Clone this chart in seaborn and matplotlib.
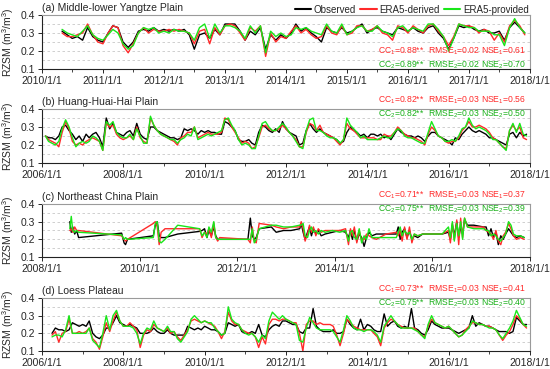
import numpy as np
import pandas as pd
import matplotlib
matplotlib.use("Agg")
import matplotlib.pyplot as plt
import matplotlib.dates as mdates
from matplotlib.ticker import MultipleLocator, FuncFormatter, NullLocator
import seaborn as sns

# ---------------- data ----------------
series_names = ["Observed", "ERA5-derived", "ERA5-provided"]
titles = ["(a) Middle-lower Yangtze Plain", "(b) Huang-Huai-Hai Plain",
          "(c) Northeast China Plain", "(d) Loess Plateau"]
stats_1 = [("0.88", "0.02", "0.61"), ("0.82", "0.03", "0.56"),
           ("0.71", "0.03", "0.37"), ("0.73", "0.03", "0.41")]
stats_2 = [("0.89", "0.02", "0.70"), ("0.82", "0.03", "0.50"),
           ("0.75", "0.03", "0.39"), ("0.75", "0.03", "0.40")]

# panel a: monthly, starting 2010-05
a_start = "2010-05-01"
a_obs = [.31, .29, .27, .28, .26, .33, .28, .26, .25, .30, .34, .33, .25, .22, .25, .31,
         .32, .31, .33, .31, .32, .31, .32, .31, .32, .29, .21, .29, .30, .27, .32, .29,
         .35, .35, .35, .31, .26, .31, .29, .33, .21, .29, .26, .29, .27, .30, .35, .31,
         .33, .30, .28, .25, .33, .31, .30, .33, .30, .31, .33, .35, .30, .32, .33, .31,
         .30, .29, .33, .32, .31, .33, .31, .30, .33, .34, .30, .27, .21, .27, .34, .33,
         .34, .32, .31, .32, .30, .30, .31, .26, .33, .36, .33, .30]
a_der = [.30, .28, .28, .29, .30, .35, .29, .25, .24, .30, .34, .33, .23, .19, .24, .30,
         .33, .30, .32, .31, .31, .32, .31, .32, .31, .30, .24, .31, .32, .24, .33, .29,
         .34, .35, .34, .30, .26, .33, .31, .34, .17, .30, .25, .28, .27, .31, .34, .30,
         .32, .29, .27, .28, .34, .30, .29, .34, .29, .30, .34, .34, .31, .32, .34, .30,
         .29, .26, .34, .33, .30, .34, .32, .30, .34, .35, .31, .28, .23, .28, .35, .34,
         .34, .33, .30, .32, .31, .26, .30, .25, .34, .37, .34, .29]
a_pro = [.32, .30, .29, .28, .31, .34, .29, .27, .26, .29, .32, .30, .24, .21, .23, .30,
         .33, .32, .33, .30, .31, .30, .32, .31, .31, .30, .26, .33, .35, .27, .35, .30,
         .34, .34, .33, .31, .27, .34, .30, .34, .19, .31, .28, .30, .28, .29, .33, .32,
         .33, .31, .30, .29, .35, .31, .30, .35, .29, .31, .33, .34, .31, .31, .34, .31,
         .30, .28, .33, .34, .31, .33, .32, .31, .35, .35, .32, .28, .20, .27, .35, .34,
         .33, .33, .31, .31, .31, .29, .29, .23, .33, .38, .33, .30]

# panel b: monthly, starting 2006-02
b_start = "2006-02-01"
b_obs = [.25, .24, .24, .23, .25, .30, .31, .28, .26, .23, .25,
         .22, .26, .24, .26, .27, .24, .19, .35, .29, .32, .27, .26,
         .25, .27, .28, .25, .32, .26, .24, .23, .30, .30, .28, .27,
         .26, .25, .24, .24, .23, .24, .29, .28, .29, .28, .26, .28,
         .27, .28, .27, .27, .26, .26, .33, .32, .30, .28, .23, .22,
         .22, .23, .21, .20, .27, .31, .30, .28, .27, .29, .27, .33,
         .29, .27, .26, .25, .20, .21, .28, .32, .29, .27, .29, .27,
         .26, .25, .24, .23, .21, .22, .27, .30, .28, .27, .25, .26,
         .24, .26, .26, .25, .26, .24, .25, .23, .26, .29, .27, .26,
         .25, .25, .24, .25, .24, .22, .25, .27, .27, .25, .24, .23,
         .22, .20, .24, .23, .26, .28, .30, .28, .27, .28, .27, .26,
         .24, .24, .23, .22, .21, .20, .26, .27, .24, .27, .25, .26]
b_der = [.25, .23, .22, .21, .19, .27, .33, .29, .22, .20, .21,
         .20, .22, .23, .24, .23, .22, .17, .32, .30, .31, .26, .24,
         .23, .24, .25, .23, .30, .24, .22, .21, .35, .31, .28, .26,
         .25, .24, .23, .22, .20, .24, .25, .27, .27, .30, .24, .25,
         .26, .27, .26, .26, .26, .27, .35, .34, .30, .27, .24, .21,
         .22, .21, .18, .19, .24, .30, .31, .29, .28, .28, .29, .31,
         .29, .27, .25, .23, .19, .19, .27, .32, .31, .28, .31, .27,
         .26, .25, .24, .22, .20, .23, .32, .29, .28, .26, .24, .24,
         .24, .24, .24, .23, .23, .26, .25, .25, .27, .30, .28, .26,
         .25, .24, .24, .23, .22, .20, .26, .30, .28, .25, .24, .22,
         .21, .22, .22, .24, .28, .30, .33, .30, .30, .31, .30, .29,
         .27, .24, .23, .21, .19, .18, .28, .31, .28, .30, .24, .23]
b_pro = [.25, .22, .21, .20, .22, .29, .34, .30, .24, .19, .21,
         .22, .21, .22, .25, .24, .22, .17, .33, .31, .33, .27, .25,
         .24, .24, .26, .23, .29, .25, .21, .21, .36, .31, .28, .26,
         .25, .24, .23, .23, .21, .23, .24, .26, .25, .30, .23, .24,
         .25, .26, .25, .26, .27, .28, .34, .35, .31, .28, .23, .20,
         .21, .20, .18, .18, .25, .32, .33, .30, .28, .28, .30, .32,
         .30, .27, .25, .22, .19, .18, .28, .34, .35, .28, .28, .27,
         .25, .24, .24, .23, .21, .23, .35, .31, .29, .27, .24, .25,
         .23, .23, .23, .23, .24, .25, .24, .24, .27, .29, .28, .25,
         .24, .24, .23, .22, .21, .21, .27, .33, .29, .25, .24, .22,
         .22, .23, .22, .25, .29, .30, .35, .31, .29, .30, .29, .28,
         .26, .23, .23, .21, .19, .17, .28, .32, .27, .32, .26, .25]

# panel c: irregular sampling (decimal years)
c_years = [2008.57, 2008.60, 2008.63, 2008.67, 2008.71, 2008.75, 2009.63, 2009.68,
           2009.71, 2009.75, 2010.28, 2010.32, 2010.36, 2010.40, 2010.44, 2010.52,
           2010.78, 2011.23, 2011.28, 2011.33, 2011.38, 2011.42, 2011.47, 2011.52,
           2011.56, 2011.60, 2011.64, 2012.22, 2012.27, 2012.31, 2012.35, 2012.39,
           2012.45, 2012.70, 2012.80, 2012.95, 2013.10, 2013.28, 2013.31, 2013.35,
           2013.39, 2013.44, 2013.48, 2013.52, 2013.56, 2013.61, 2013.66, 2013.72,
           2013.80, 2013.95, 2014.10, 2014.22, 2014.28, 2014.32, 2014.36, 2014.40,
           2014.45, 2014.50, 2014.55, 2014.60, 2014.65, 2014.70, 2014.76, 2014.85,
           2015.05, 2015.26, 2015.30, 2015.34, 2015.38, 2015.43, 2015.48, 2015.53,
           2015.58, 2015.63, 2015.70, 2015.80, 2016.20, 2016.33, 2016.37, 2016.41,
           2016.45, 2016.50, 2016.54, 2016.58, 2016.62, 2016.66, 2016.72, 2016.85,
           2017.05, 2017.10, 2017.15, 2017.20, 2017.25, 2017.30, 2017.35, 2017.40,
           2017.45, 2017.50, 2017.56, 2017.61, 2017.66, 2017.72, 2017.80, 2017.88]
c_obs = [.30, .24, .27, .23, .25, .21, .235, .18, .17, .20, .22, .28, .30, .22, .21, .21,
         .23, .245, .25, .26, .21, .25, .22, .27, .22, .20, .20, .20, .32, .22, .20, .21,
         .26, .27, .24, .25, .25, .26, .29, .24, .20, .24, .27, .22, .26, .23, .25, .22,
         .23, .24, .25, .24, .21, .25, .20, .25, .19, .23, .21, .16, .21, .24, .22, .23,
         .23, .23, .27, .20, .24, .26, .21, .25, .20, .22, .21, .23, .23, .24, .20, .28,
         .22, .30, .21, .27, .23, .31, .28, .28, .27, .27, .22, .26, .21, .24, .17, .22,
         .20, .23, .26, .24, .22, .21, .22, .21]
c_der = [.25, .26, .24, .27, .25, .25, .22, .20, .19, .20, .29, .30, .27, .17, .24, .26,
         .26, .26, .21, .24, .23, .26, .21, .29, .21, .19, .21, .20, .18, .27, .19, .18,
         .29, .28, .27, .26, .27, .27, .30, .26, .19, .23, .28, .24, .27, .22, .26, .24,
         .25, .25, .25, .26, .17, .26, .22, .27, .18, .25, .19, .20, .23, .22, .21, .20,
         .23, .24, .22, .25, .19, .27, .20, .27, .18, .23, .22, .23, .23, .25, .18, .29,
         .20, .31, .17, .32, .21, .32, .27, .27, .27, .25, .24, .23, .20, .25, .19, .17,
         .22, .24, .29, .26, .22, .20, .21, .20]
c_pro = [.26, .33, .25, .24, .25, .24, .225, .20, .21, .20, .21, .29, .30, .19, .18, .20,
         .28, .26, .22, .24, .21, .27, .24, .30, .21, .20, .20, .20, .20, .26, .18, .20,
         .26, .28, .28, .27, .27, .28, .28, .29, .22, .21, .25, .27, .24, .25, .23, .25,
         .24, .25, .24, .25, .19, .24, .25, .21, .20, .26, .18, .22, .20, .26, .21, .21,
         .21, .21, .24, .27, .22, .25, .23, .24, .20, .23, .22, .23, .23, .27, .21, .30,
         .19, .29, .22, .30, .20, .32, .27, .26, .26, .25, .25, .22, .23, .22, .20, .19,
         .21, .23, .30, .28, .23, .22, .22, .21]

# panel d: monthly, starting 2006-04
d_start = "2006-04-01"
d_obs = [.20, .23, .22, .22, .21, .22, .26, .25, .24,
         .25, .24, .27, .20, .18, .17, .19, .23, .23, .26, .30, .26,
         .25, .24, .25, .24, .23, .20, .20, .20, .21, .23, .21, .20,
         .20, .22, .20, .19, .19, .19, .19, .24, .23, .22, .23, .22,
         .24, .23, .22, .22, .21, .19, .20, .26, .25, .24, .25, .21,
         .20, .20, .21, .20, .25, .19, .18, .22, .24, .25, .24, .27,
         .27, .26, .25, .25, .21, .20, .23, .23, .34, .24, .22, .21,
         .21, .21, .22, .20, .20, .21, .28, .25, .23, .22, .28, .22,
         .25, .24, .22, .21, .21, .31, .24, .26, .27, .24, .23, .24,
         .23, .34, .23, .22, .20, .19, .22, .27, .25, .24, .23, .23,
         .23, .22, .21, .20, .21, .22, .23, .30, .24, .26, .25, .24,
         .24, .23, .22, .21, .21, .21, .20, .21, .29, .27, .25, .25]
d_der = [.19, .21, .15, .20, .21, .28, .20, .20, .21,
         .20, .21, .23, .17, .15, .11, .18, .26, .21, .27, .32, .27,
         .24, .24, .26, .24, .22, .12, .19, .22, .21, .25, .23, .22,
         .21, .23, .20, .21, .18, .16, .19, .22, .27, .28, .27, .26,
         .27, .26, .25, .24, .21, .17, .21, .32, .27, .25, .25, .22,
         .21, .20, .20, .18, .12, .18, .14, .25, .28, .28, .27, .28,
         .28, .27, .26, .26, .20, .10, .25, .27, .27, .25, .26, .25,
         .25, .25, .24, .19, .13, .20, .28, .26, .24, .23, .22, .22,
         .22, .22, .20, .18, .13, .23, .26, .28, .27, .25, .24, .23,
         .23, .23, .23, .21, .19, .18, .24, .28, .26, .25, .24, .23,
         .24, .22, .20, .18, .19, .22, .24, .26, .26, .25, .25, .24,
         .24, .23, .22, .19, .16, .19, .21, .25, .30, .28, .25, .23]
d_pro = [.18, .19, .19, .18, .22, .30, .20, .20, .20,
         .20, .20, .23, .16, .14, .12, .20, .30, .22, .30, .33, .27,
         .24, .24, .24, .23, .20, .14, .20, .23, .22, .27, .23, .22,
         .21, .24, .21, .21, .17, .15, .18, .21, .28, .30, .28, .26,
         .27, .26, .26, .23, .21, .19, .20, .35, .28, .26, .25, .22,
         .20, .19, .20, .18, .15, .19, .17, .27, .32, .30, .28, .30,
         .28, .27, .26, .25, .16, .15, .23, .29, .26, .23, .22, .22,
         .22, .22, .21, .18, .15, .22, .30, .27, .23, .22, .22, .21,
         .22, .22, .21, .19, .15, .24, .27, .30, .27, .25, .23, .23,
         .23, .23, .22, .21, .19, .17, .25, .30, .26, .25, .24, .23,
         .24, .22, .20, .18, .19, .21, .23, .27, .26, .25, .25, .24,
         .23, .23, .22, .19, .17, .20, .23, .27, .33, .29, .25, .24]

# ---------------- build frames ----------------
def monthly_frame(start, obs, der, pro):
    dates = pd.date_range(start, periods=len(obs), freq="MS")
    parts = []
    for name, vals in zip(series_names, [obs, der, pro]):
        parts.append(pd.DataFrame({"date": dates, "value": vals, "series": name}))
    return pd.concat(parts, ignore_index=True)

def decimal_frame(years, obs, der, pro):
    dates = [pd.Timestamp(int(y), 1, 1) + pd.Timedelta(days=(y - int(y)) * 365.25) for y in years]
    parts = []
    for name, vals in zip(series_names, [obs, der, pro]):
        parts.append(pd.DataFrame({"date": dates, "value": vals, "series": name}))
    return pd.concat(parts, ignore_index=True)

frames = [monthly_frame(a_start, a_obs, a_der, a_pro),
          monthly_frame(b_start, b_obs, b_der, b_pro),
          decimal_frame(c_years, c_obs, c_der, c_pro),
          monthly_frame(d_start, d_obs, d_der, d_pro)]
xlims = [("2010-01-01", "2018-01-01"), ("2006-01-01", "2018-01-01"),
         ("2008-01-01", "2018-01-01"), ("2006-01-01", "2018-01-01")]
major_step = [1, 2, 2, 2]

# ---------------- style ----------------
sns.set_style("ticks")
plt.rcParams["font.family"] = ["Liberation Sans", "DejaVu Sans"]
plt.rcParams["mathtext.fontset"] = "custom"
plt.rcParams["mathtext.rm"] = "Liberation Sans"
plt.rcParams["mathtext.it"] = "Liberation Sans"

palette = {"Observed": "#000000", "ERA5-derived": "#ff2a2a", "ERA5-provided": "#19e619"}
red_txt = "#ff2a2a"
green_txt = "#18b018"

fig = plt.figure(figsize=(5.5, 3.69), dpi=100)
W, H = 550, 369
boxes = [(15, 69), (109, 163), (204, 257), (298, 351)]
L, R = 42, 530

def fmt_date(x, pos):
    d = mdates.num2date(x)
    return f"{d.year}/{d.month}/{d.day}"

axes = []
for i, (top, bot) in enumerate(boxes):
    ax = fig.add_axes([L / W, 1 - bot / H, (R - L) / W, (bot - top) / H])
    axes.append(ax)
    sns.lineplot(data=frames[i], x="date", y="value", hue="series", palette=palette,
                 hue_order=series_names, estimator=None, sort=False, linewidth=1.0,
                 ax=ax, legend=(i == 0))
    ax.set_xlim(pd.Timestamp(xlims[i][0]), pd.Timestamp(xlims[i][1]))
    ax.set_ylim(0.1, 0.4)
    ax.yaxis.set_major_locator(MultipleLocator(0.1))
    ax.yaxis.set_minor_locator(MultipleLocator(0.05))
    ax.yaxis.set_major_formatter(FuncFormatter(lambda v, p: f"{v:.1f}"))
    ax.xaxis.set_major_locator(mdates.YearLocator(major_step[i]))
    ax.xaxis.set_major_formatter(FuncFormatter(fmt_date))
    if i == 0:
        ax.xaxis.set_minor_locator(mdates.MonthLocator(bymonth=[7]))
    elif i in (1, 3):
        ax.xaxis.set_minor_locator(mdates.YearLocator(1))
    else:
        ax.xaxis.set_minor_locator(NullLocator())
    ax.tick_params(axis="both", which="major", labelsize=7.5, length=3, width=0.7,
                   direction="out", pad=2)
    ax.tick_params(axis="x", which="minor", length=2, width=0.6, direction="out")
    ax.tick_params(axis="y", which="minor", length=0)
    ax.grid(axis="y", which="both", color="#c8c8c8", linestyle=(0, (3, 3)), linewidth=0.6)
    ax.set_axisbelow(True)
    for s in ["left", "bottom"]:
        ax.spines[s].set_color("#222222")
        ax.spines[s].set_linewidth(0.8)
    for s in ["top", "right"]:
        ax.spines[s].set_visible(True)
        ax.spines[s].set_color("#9a9a9a")
        ax.spines[s].set_linewidth(0.8)
    ax.set_xlabel("")
    ax.set_ylabel("RZSM (m$^3$/m$^3$)", fontsize=7.5, labelpad=3)
    ax.text(0.0, 1.04, titles[i], transform=ax.transAxes, fontsize=7.5,
            ha="left", va="bottom")

    # statistics text
    if i == 0:
        y1, y2 = (51, 65)
    else:
        y1, y2 = (top - 9, top + 5)
    s1, s2 = stats_1[i], stats_2[i]
    for yy, (cc, rm, ns), k, col in [(y1, s1, "1", red_txt), (y2, s2, "2", green_txt)]:
        yf = 1 - yy / H
        fig.text(378 / W, yf, f"CC$_{k}$={cc}**", color=col, fontsize=6.2, va="center", ha="left")
        fig.text(428 / W, yf, f"RMSE$_{k}$={rm}", color=col, fontsize=6.2, va="center", ha="left")
        fig.text(481 / W, yf, f"NSE$_{k}$={ns}", color=col, fontsize=6.2, va="center", ha="left")

leg = axes[0].legend(loc="lower right", bbox_to_anchor=(1.0, 0.99), ncol=3, frameon=False,
                     fontsize=7, handlelength=1.7, columnspacing=0.4, handletextpad=0.3,
                     borderaxespad=0.0, borderpad=0.1)
for line in leg.get_lines():
    line.set_linewidth(1.5)

fig.savefig("out.png", dpi=100)
